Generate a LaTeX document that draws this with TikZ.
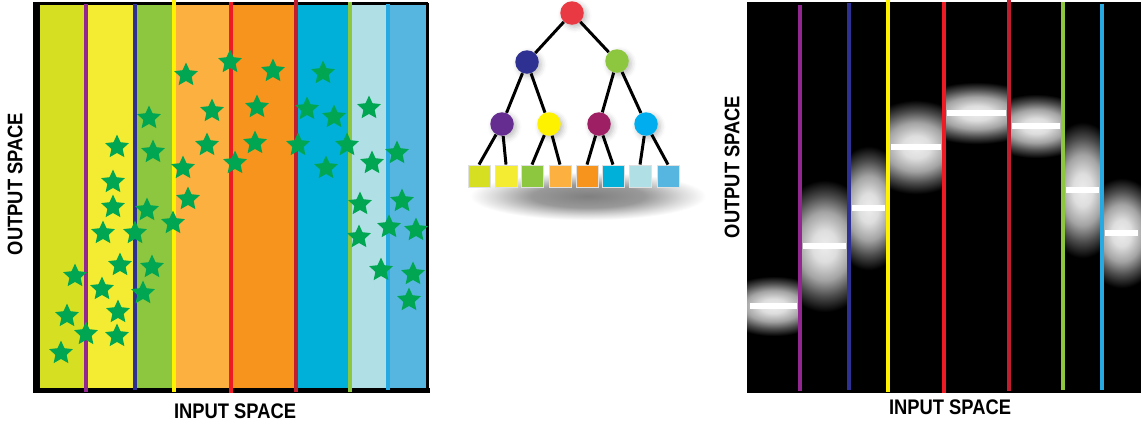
\documentclass[tikz,border=0pt]{standalone}
\usepackage{fontspec}
\setsansfont{Liberation Sans}
\usetikzlibrary{shapes.geometric,shadows.blur}

\definecolor{leafA}{HTML}{D7DF23}
\definecolor{leafB}{HTML}{F4EB33}
\definecolor{leafC}{HTML}{8DC63F}
\definecolor{leafD}{HTML}{FBB040}
\definecolor{leafE}{HTML}{F7941E}
\definecolor{leafF}{HTML}{00B0D8}
\definecolor{leafG}{HTML}{B0DFE5}
\definecolor{leafH}{HTML}{56B6DF}
\definecolor{splitRoot}{HTML}{ED1C24}
\definecolor{splitL}{HTML}{2E3192}
\definecolor{splitR}{HTML}{8DC63F}
\definecolor{splitLL}{HTML}{92278F}
\definecolor{splitLR}{HTML}{FFF200}
\definecolor{splitRL}{HTML}{BE1E2D}
\definecolor{splitRR}{HTML}{27AAE1}
\definecolor{knotRoot}{HTML}{E93A44}
\definecolor{knotRL}{HTML}{9E1F63}
\definecolor{knotRR}{HTML}{00AEEF}
\definecolor{knotLL}{HTML}{662D91}
\definecolor{starG}{HTML}{00A651}

\pgfdeclareradialshading{glow}{\pgfpointorigin}{color(0bp)=(white!93!black); color(6bp)=(white!87!black); color(13bp)=(white!64!black); color(19bp)=(white!30!black); color(25bp)=(black); color(50bp)=(black)}
\pgfdeclareradialshading{haze}{\pgfpointorigin}{color(0bp)=(black!50); color(12bp)=(black!40); color(20bp)=(black!14); color(25bp)=(white); color(50bp)=(white)}

\begin{document}
\begin{tikzpicture}[x=0.02cm,y=-0.02cm,
  pt/.style={star,star points=5,star point ratio=2.1,fill=starG,minimum size=0.5cm,inner sep=0pt},
  cut/.style={line width=1.8pt},
  bar/.style={white,line width=3.4pt},
  lbl/.style={font=\sffamily\bfseries\fontsize{12pt}{12pt}\selectfont,inner sep=0pt},
  branch/.style={circle,minimum size=0.47cm,inner sep=0pt,blur shadow={shadow xshift=1.5pt,shadow yshift=-1.5pt,shadow opacity=25,shadow blur radius=3pt}},
  leaf/.style={rectangle,minimum size=0.44cm,inner sep=0pt,draw=black!12,line width=0.5pt},
  twig/.style={line width=1.7pt,black}]
\useasboundingbox (0,0) rectangle (1141,424);

% partitioned input space with samples
\fill[leafA,draw=black,line width=1.2pt] (39,4) rectangle (85,389);
\fill[leafB,draw=black,line width=1.2pt] (86,4) rectangle (135,389);
\fill[leafC,draw=black,line width=1.2pt] (135,4) rectangle (174,389);
\fill[leafD,draw=black,line width=1.2pt] (174,4) rectangle (231,389);
\fill[leafE,draw=black,line width=1.2pt] (231,4) rectangle (296,389);
\fill[leafF,draw=black,line width=1.2pt] (296,4) rectangle (350,389);
\fill[leafG,draw=black,line width=1.2pt] (350,4) rectangle (388,389);
\fill[leafH,draw=black,line width=1.2pt] (388,4) rectangle (427,389);
\draw[line width=1.2pt] (33,3) -- (428,3);
\draw[line width=1.7pt] (427,3) -- (427,392);
\draw[line width=3pt] (35.5,3) -- (35.5,393);
\draw[line width=3pt] (33,390.5) -- (430,390.5);

\draw[cut,splitLL] (86,4) -- (86,392);
\draw[cut,splitL] (135,4) -- (135,390);
\draw[cut,splitLR] (174,0) -- (174,392);
\draw[cut,splitRoot] (231,2) -- (231,393);
\draw[cut,splitRL] (296,0) -- (296,392);
\draw[cut,splitR] (350,2) -- (350,392);
\draw[cut,splitRR] (388,4) -- (388,390);

\foreach \x/\y [count=\n] in {230/62,273/71,186/75,323/73,212/111,257/107,307/109,334/117,369/108,
  149/118,117/147,153/152,207/145,255/143,298/145,347/145,397/153,372/163,326/168,235/163,183/168,
  113/182,188/199,113/207,147/210,360/204,402/201,173/223,103/233,135/233,359/237,389/227,416/230,
  120/265,152/267,75/276,381/270,413/274,102/289,143/293,409/300,67/316,118/312,86/334,117/336,61/353}
  \node[pt] (s\n) at (\x,\y) {};

\node[lbl,rotate=90,xscale=0.87] (outA) at (15,184) {OUTPUT SPACE};
\node[lbl,xscale=0.87] (inA) at (235,411) {INPUT SPACE};

% the tree
\shade[shading=haze] (470,172) rectangle (706,220);

\node[branch,fill=knotRoot] (R) at (572,13) {};
\node[branch,fill=splitL] (L) at (527,62) {};
\node[branch,fill=splitR] (Rt) at (617,61) {};
\node[branch,fill=knotLL] (LL) at (502,124) {};
\node[branch,fill=splitLR] (LR) at (549,124) {};
\node[branch,fill=knotRL] (RL) at (599,124) {};
\node[branch,fill=knotRR] (RR) at (646,124) {};

\node[leaf,fill=leafA] (A) at (479,176) {};
\node[leaf,fill=leafB] (B) at (506,176) {};
\node[leaf,fill=leafC] (C) at (532,176) {};
\node[leaf,fill=leafD] (D) at (560,176) {};
\node[leaf,fill=leafE] (E) at (587,176) {};
\node[leaf,fill=leafF] (F) at (613,176) {};
\node[leaf,fill=leafG] (G) at (640,176) {};
\node[leaf,fill=leafH] (H) at (668,176) {};

\draw[twig] (R) -- (L);
\draw[twig] (R) -- (Rt);
\draw[twig] (L) -- (LL);
\draw[twig] (L) -- (LR);
\draw[twig] (Rt) -- (RL);
\draw[twig] (Rt) -- (RR);
\draw[twig] (LL) -- (A.north);
\draw[twig] (LL) -- (B.north);
\draw[twig] (LR) -- (C.north);
\draw[twig] (LR) -- (D.north);
\draw[twig] (RL) -- (E.north);
\draw[twig] (RL) -- (F.north);
\draw[twig] (RR) -- (G.north);
\draw[twig] (RR) -- (H.north);

% piecewise constant prediction
\fill[black] (747,2) rectangle (1141,393);
\foreach \a/\b/\h/\r in {747/800/306/30,800/849/246/66,849/888/208/62,888/944/147/47,
  944/1009/113/31,1009/1063/126/32,1063/1102/190/68,1102/1141/233/55}{
  \begin{scope}
    \clip (\a,2) rectangle (\b,393);
    \shade[shading=glow] ({\a-0.55*(\b-\a)},{\h-\r}) rectangle ({\b+0.55*(\b-\a)},{\h+\r});
    \draw[bar] ({\a+3},\h) -- ({\b-3},\h);
  \end{scope}
}
\draw[cut,splitLL] (800,5) -- (800,391);
\draw[cut,splitL] (849,3) -- (849,390);
\draw[cut,splitLR] (888,0) -- (888,392);
\draw[cut,splitRoot] (944,2) -- (944,393);
\draw[cut,splitRL] (1009,0) -- (1009,391);
\draw[cut,splitR] (1063,2) -- (1063,390);
\draw[cut,splitRR] (1102,4) -- (1102,390);

\node[lbl,rotate=90,xscale=0.87] (outB) at (732,167) {OUTPUT SPACE};
\node[lbl,xscale=0.87] (inB) at (950,407) {INPUT SPACE};
\end{tikzpicture}
\end{document}
